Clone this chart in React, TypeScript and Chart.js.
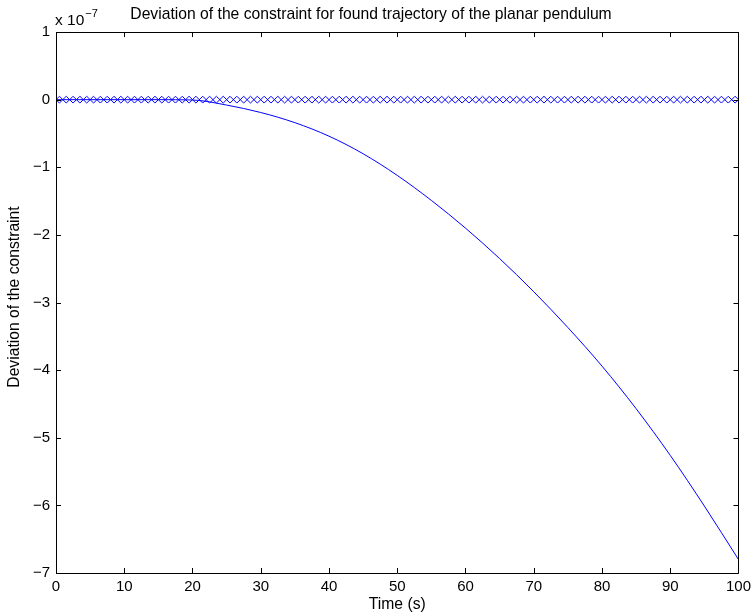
import React, { useEffect, useRef } from "react";
import { Chart, registerables } from "chart.js";

Chart.register(...registerables);

// Curve: deviation of the constraint (units of 1e-7) vs time (s)
const curveTimes = [0, 5, 10, 15, 20, 25, 30, 35, 40, 45, 50, 55, 60, 65, 70, 75, 80, 85, 90, 95, 100];
const curveValues = [0, 0, 0, 0, -0.005, -0.08, -0.19, -0.34, -0.54, -0.8, -1.12, -1.49, -1.9, -2.35, -2.84, -3.37, -3.94, -4.57, -5.26, -6.01, -6.8];

// Marker series ("x" markers at zero deviation)
const markerTimes = [
  0, 1, 2, 3, 4, 5, 6, 7, 8, 9, 10, 11, 12, 13, 14, 15, 16, 17, 18, 19, 20,
  21, 22, 23, 24, 25, 26, 27, 28, 29, 30, 31, 32, 33, 34, 35, 36, 37, 38, 39, 40,
  41, 42, 43, 44, 45, 46, 47, 48, 49, 50, 51, 52, 53, 54, 55, 56, 57, 58, 59, 60,
  61, 62, 63, 64, 65, 66, 67, 68, 69, 70, 71, 72, 73, 74, 75, 76, 77, 78, 79, 80,
  81, 82, 83, 84, 85, 86, 87, 88, 89, 90, 91, 92, 93, 94, 95, 96, 97, 98, 99, 100,
];
const markerValues = [
  0, 0, 0, 0, 0, 0, 0, 0, 0, 0, 0, 0, 0, 0, 0, 0, 0, 0, 0, 0, 0,
  0, 0, 0, 0, 0, 0, 0, 0, 0, 0, 0, 0, 0, 0, 0, 0, 0, 0, 0, 0,
  0, 0, 0, 0, 0, 0, 0, 0, 0, 0, 0, 0, 0, 0, 0, 0, 0, 0, 0, 0,
  0, 0, 0, 0, 0, 0, 0, 0, 0, 0, 0, 0, 0, 0, 0, 0, 0, 0, 0, 0,
  0, 0, 0, 0, 0, 0, 0, 0, 0, 0, 0, 0, 0, 0, 0, 0, 0, 0, 0, 0,
];

const xTicks = [0, 10, 20, 30, 40, 50, 60, 70, 80, 90, 100];
const yTicks = [1, 0, -1, -2, -3, -4, -5, -6, -7];

const titleText = "Deviation of the constraint for found trajectory of the planar pendulum";
const xTitle = "Time (s)";
const yTitle = "Deviation of the constraint";
const expBase = "x 10";
const expPower = "\u22127";

const FONT = "Arial, 'Liberation Sans', Helvetica, sans-serif";
const BLUE = "#0000ff";

const fmt = (v: number) => (v < 0 ? "\u2212" + Math.abs(v) : String(v));

const boxPlugin = {
  id: "matlabBox",
  afterDraw(chart: any) {
    const { ctx, chartArea } = chart;
    const { left, right, top, bottom } = chartArea;
    const xs = chart.scales.x;
    const ys = chart.scales.y;
    const tl = 5;
    ctx.save();
    ctx.strokeStyle = "#000";
    ctx.lineWidth = 1;
    ctx.beginPath();
    ctx.rect(Math.round(left) + 0.5, Math.round(top) + 0.5, Math.round(right - left), Math.round(bottom - top));
    ctx.stroke();
    ctx.beginPath();
    xTicks.forEach((t) => {
      const px = Math.round(xs.getPixelForValue(t)) + 0.5;
      ctx.moveTo(px, bottom);
      ctx.lineTo(px, bottom - tl);
      ctx.moveTo(px, top);
      ctx.lineTo(px, top + tl);
    });
    yTicks.forEach((t) => {
      const py = Math.round(ys.getPixelForValue(t)) + 0.5;
      ctx.moveTo(left, py);
      ctx.lineTo(left + tl, py);
      ctx.moveTo(right, py);
      ctx.lineTo(right - tl, py);
    });
    ctx.stroke();
    // exponent label
    ctx.fillStyle = "#000";
    ctx.textBaseline = "alphabetic";
    ctx.textAlign = "left";
    ctx.font = `15.5px ${FONT}`;
    ctx.fillText(expBase, left - 1, top - 7);
    const w = ctx.measureText(expBase).width;
    ctx.font = `11px ${FONT}`;
    ctx.fillText(expPower, left - 1 + w + 1, top - 15);
    // y axis title
    ctx.translate(15, 297);
    ctx.rotate(-Math.PI / 2);
    ctx.font = `15.7px ${FONT}`;
    ctx.textAlign = "center";
    ctx.textBaseline = "middle";
    ctx.fillText(yTitle, 0, 0);
    ctx.restore();
  },
};

export default function App() {
  const ref = useRef<HTMLCanvasElement | null>(null);
  useEffect(() => {
    if (!ref.current) return;
    const chart = new Chart(ref.current, {
      type: "scatter",
      data: {
        datasets: [
          {
            label: "curve",
            data: curveTimes.map((t, i) => ({ x: t, y: curveValues[i] })),
            showLine: true,
            borderColor: BLUE,
            borderWidth: 1,
            pointRadius: 0,
            cubicInterpolationMode: "monotone",
            fill: false,
          },
          {
            label: "markers",
            data: markerTimes.map((t, i) => ({ x: t, y: markerValues[i] })),
            showLine: false,
            pointStyle: "crossRot",
            pointRadius: 4.8,
            borderColor: BLUE,
            backgroundColor: BLUE,
            pointBorderWidth: 1,
          },
        ],
      },
      options: {
        responsive: false,
        animation: false,
        devicePixelRatio: 1,
        layout: { padding: { left: 0, right: 14, top: 0, bottom: 0 } },
        plugins: {
          legend: { display: false },
          tooltip: { enabled: false },
          title: {
            display: true,
            text: titleText,
            color: "#000",
            font: { family: FONT, size: 15.7, weight: "normal" },
            padding: { top: 5, bottom: 8.2 },
          },
        },
        scales: {
          x: {
            type: "linear",
            min: 0,
            max: 100,
            grid: { display: false, drawTicks: false },
            border: { display: false },
            ticks: {
              stepSize: 10,
              color: "#000",
              padding: 5,
              maxRotation: 0,
              font: { family: FONT, size: 15 },
              callback: (v: any) => fmt(Number(v)),
            },
            title: {
              display: true,
              text: xTitle,
              color: "#000",
              font: { family: FONT, size: 15.7 },
              padding: { top: 1.5, bottom: 0 },
            },
            afterFit: (s: any) => {
              s.height = 41;
            },
          },
          y: {
            type: "linear",
            min: -7,
            max: 1,
            grid: { display: false, drawTicks: false },
            border: { display: false },
            ticks: {
              stepSize: 1,
              color: "#000",
              padding: 6,
              font: { family: FONT, size: 15 },
              callback: (v: any) => fmt(Number(v)),
            },
            title: { display: false },
            afterFit: (s: any) => {
              s.width = 56;
            },
          },
        },
      } as any,
      plugins: [boxPlugin],
    });
    return () => chart.destroy();
  }, []);
  return (
    <div style={{ position: "absolute", left: 0, top: 0, width: 756, height: 614, background: "#fff" }}>
      <canvas ref={ref} width={756} height={614} style={{ display: "block" }} />
    </div>
  );
}
